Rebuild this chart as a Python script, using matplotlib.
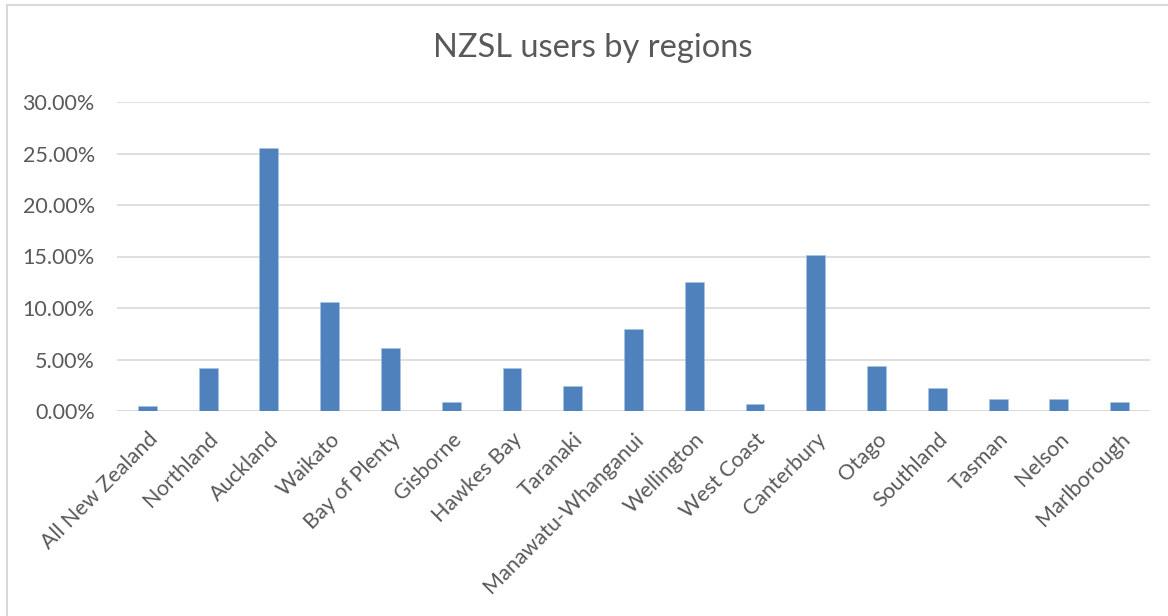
import matplotlib
matplotlib.use("Agg")
import matplotlib.pyplot as plt
from matplotlib.ticker import FuncFormatter
from matplotlib.patches import Rectangle

regions = ["All New Zealand", "Northland", "Auckland", "Waikato", "Bay of Plenty",
           "Gisborne", "Hawkes Bay", "Taranaki", "Manawatu-Whanganui", "Wellington",
           "West Coast", "Canterbury", "Otago", "Southland", "Tasman", "Nelson",
           "Marlborough"]
shares = [0.0052, 0.0421, 0.2557, 0.1058, 0.0608, 0.0091, 0.0421, 0.0243, 0.0793,
          0.1249, 0.0065, 0.1518, 0.0437, 0.0220, 0.0113, 0.0120, 0.0091]
yticks = [0.0, 0.05, 0.10, 0.15, 0.20, 0.25, 0.30]

plt.rcParams['font.family'] = ['Lato', 'DejaVu Sans']
W, H = 1168, 616
fig = plt.figure(figsize=(W / 100, H / 100), dpi=100)
ax = fig.add_axes([117 / W, 1 - 411 / H, (1150 - 117) / W, (411 - 102) / H])

x = list(range(len(regions)))
ax.bar(x, shares, width=0.31, color="#4f81bd", edgecolor="#a9c4e4", linewidth=0.4, zorder=3)
ax.set_xlim(-0.5, len(regions) - 0.5)
ax.set_ylim(0, 0.30)
ax.set_yticks(yticks)
ax.yaxis.set_major_formatter(FuncFormatter(lambda v, p: f"{v * 100:.2f}%"))
ax.grid(axis="y", color="#d9d9d9", linewidth=1.2, zorder=0)
for s in ax.spines.values():
    s.set_visible(False)
ax.axhline(0, color="#d9d9d9", linewidth=1.2, zorder=2)
ax.tick_params(axis="both", length=0, labelsize=15.5, colors="#595959")
ax.tick_params(axis="y", pad=16)
ax.set_xticks(x)
ax.set_xticklabels(regions, rotation=45, ha="right", va="top", rotation_mode="anchor")
ax.tick_params(axis="x", pad=13)

fig.text(593 / W, 1 - 48 / H, "NZSL users by regions", ha="center", va="center",
         fontsize=23.5, color="#595959")
fig.patches.append(Rectangle((7 / W, -0.05), 1.2, 1.05 - 5 / H,
                             transform=fig.transFigure, fill=False,
                             edgecolor="#d9d9d9", linewidth=1.5))
fig.savefig("out.png", dpi=100, facecolor="white")
